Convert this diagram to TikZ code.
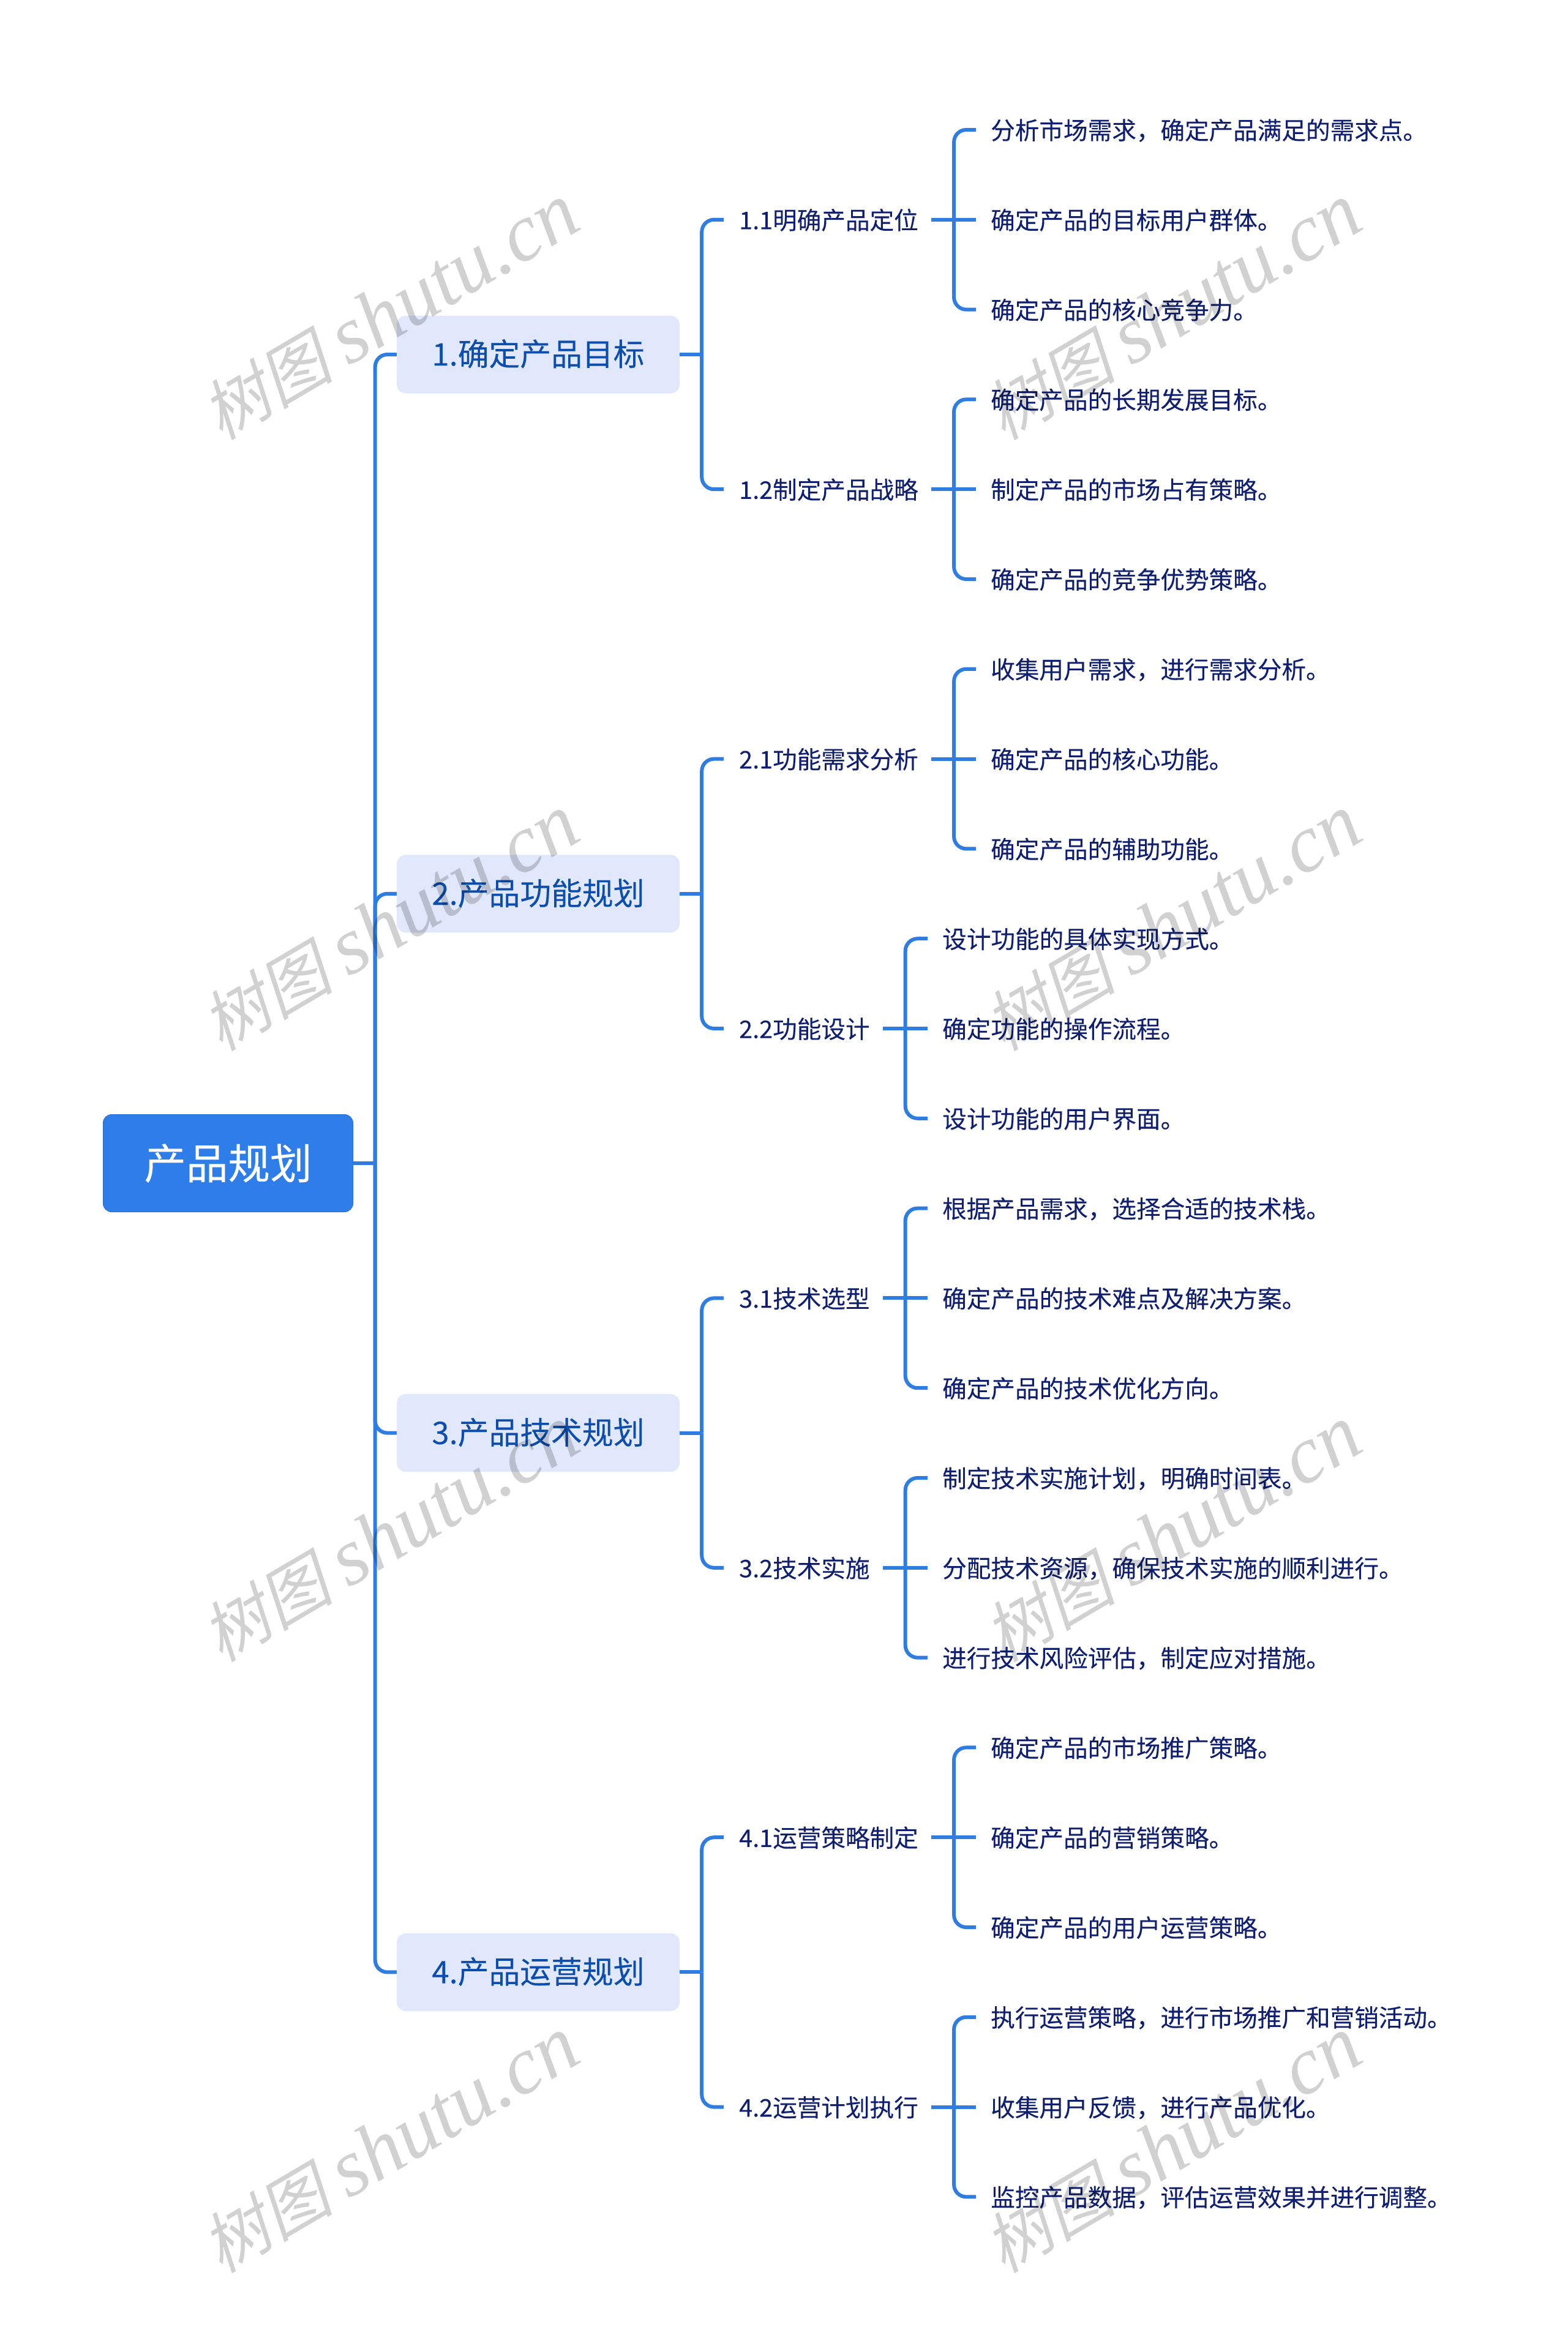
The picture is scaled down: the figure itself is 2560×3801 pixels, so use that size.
\documentclass[tikz,border=0pt]{standalone}
\usepackage{fontspec}
\setmainfont[FakeBold=0.12]{Noto Sans CJK SC}
\newfontfamily\wmcjk[FakeSlant=0.22]{Noto Sans CJK SC}
\newfontfamily\wmlat{Liberation Serif}
\definecolor{linkblue}{HTML}{2F7DE1}
\definecolor{rootblue}{HTML}{2F7DE8}
\definecolor{rootedge}{HTML}{2B72D6}
\definecolor{boxblue}{HTML}{E1E8FB}
\definecolor{boxtext}{HTML}{0D4DAB}
\definecolor{navy}{HTML}{10206E}
\tikzset{
  x=1pt,y=-1pt,
  link/.style={draw=linkblue,line width=6pt},
  curve/.style={link,rounded corners=20pt},
  rootnode/.style={rectangle,rounded corners=14pt,fill=rootblue,draw=rootedge,line width=1pt,
    minimum width=408pt,minimum height=159pt,inner sep=0pt,text=white,
    font=\fontsize{68.5pt}{80pt}\selectfont},
  topicbox/.style={rectangle,rounded corners=15pt,fill=boxblue,
    minimum width=462pt,minimum height=127pt,inner sep=0pt,text=boxtext,
    font=\fontsize{50.8pt}{60pt}\selectfont,text height=42.4pt,text depth=6pt},
  sublong/.style={anchor=west,inner xsep=25pt,inner ysep=0pt,text width=289pt,align=left,text=navy,
    font=\fontsize{39.6pt}{47pt}\selectfont,text height=36pt,text depth=4.75pt},
  subshort/.style={sublong,text width=210pt},
  leaf/.style={anchor=west,inner xsep=24pt,inner ysep=0pt,text=navy,
    font=\fontsize{39.6pt}{47pt}\selectfont,text height=36pt,text depth=4.75pt},
  mark text/.style={text=black,opacity=0.18,rotate=30.5,inner sep=0pt},
}
% stub from parent to its spine, then curves to the outer children and a straight run to the middle
\newcommand{\stubto}[2]{\draw[link] (#1.east) -- ++(#2,0) coordinate (#1-j);}
\newcommand{\curveto}[2]{\draw[curve] (#1-j) |- (#2.west);}
\newcommand{\straightto}[2]{\draw[link] (#1-j) -- (#2.west);}
\newcommand{\triple}[5]{% parent, offset, a, b, c
  \stubto{#1}{#2}\curveto{#1}{#3}\straightto{#1}{#4}\curveto{#1}{#5}}
\newcommand{\wmark}[3]{\node[mark text] (#1) at (#2,#3)
  {{\fontsize{108pt}{136pt}\selectfont\wmcjk 树图}\hspace{25pt}{\fontsize{133pt}{136pt}\selectfont\wmlat\itshape shutu.cn}};}
\begin{document}
\begin{tikzpicture}
\useasboundingbox (0,0) rectangle (2560,3801);
\fill[white] (0,0) rectangle (2560,3801);

\node[rootnode] (root) at (372.5,1900) {产品规划};
\node[topicbox] (t1) at (879,579) {1.确定产品目标};
\node[topicbox] (t2) at (879,1459.8) {2.产品功能规划};
\node[topicbox] (t3) at (879,2340.6) {3.产品技术规划};
\node[topicbox] (t4) at (879,3221.4) {4.产品运营规划};

\node[sublong] (s11) at (1182,358.8) {1.1明确产品定位};
\node[sublong] (s12) at (1182,799.2) {1.2制定产品战略};
\node[sublong] (s21) at (1182,1239.6) {2.1功能需求分析};
\node[subshort] (s22) at (1182,1680) {2.2功能设计};
\node[subshort] (s31) at (1182,2120.4) {3.1技术选型};
\node[subshort] (s32) at (1182,2560.8) {3.2技术实施};
\node[sublong] (s41) at (1182,3001.2) {4.1运营策略制定};
\node[sublong] (s42) at (1182,3441.6) {4.2运营计划执行};

\node[leaf] (a1) at (1594,212) {分析市场需求，确定产品满足的需求点。};
\node[leaf] (a2) at (1594,358.8) {确定产品的目标用户群体。};
\node[leaf] (a3) at (1594,505.6) {确定产品的核心竞争力。};
\node[leaf] (b1) at (1594,652.4) {确定产品的长期发展目标。};
\node[leaf] (b2) at (1594,799.2) {制定产品的市场占有策略。};
\node[leaf] (b3) at (1594,946) {确定产品的竞争优势策略。};
\node[leaf] (c1) at (1594,1092.8) {收集用户需求，进行需求分析。};
\node[leaf] (c2) at (1594,1239.6) {确定产品的核心功能。};
\node[leaf] (c3) at (1594,1386.4) {确定产品的辅助功能。};
\node[leaf] (d1) at (1515,1533.2) {设计功能的具体实现方式。};
\node[leaf] (d2) at (1515,1680) {确定功能的操作流程。};
\node[leaf] (d3) at (1515,1826.8) {设计功能的用户界面。};
\node[leaf] (e1) at (1515,1973.6) {根据产品需求，选择合适的技术栈。};
\node[leaf] (e2) at (1515,2120.4) {确定产品的技术难点及解决方案。};
\node[leaf] (e3) at (1515,2267.2) {确定产品的技术优化方向。};
\node[leaf] (f1) at (1515,2414) {制定技术实施计划，明确时间表。};
\node[leaf] (f2) at (1515,2560.8) {分配技术资源，确保技术实施的顺利进行。};
\node[leaf] (f3) at (1515,2707.6) {进行技术风险评估，制定应对措施。};
\node[leaf] (g1) at (1594,2854.4) {确定产品的市场推广策略。};
\node[leaf] (g2) at (1594,3001.2) {确定产品的营销策略。};
\node[leaf] (g3) at (1594,3148) {确定产品的用户运营策略。};
\node[leaf] (h1) at (1594,3294.8) {执行运营策略，进行市场推广和营销活动。};
\node[leaf] (h2) at (1594,3441.6) {收集用户反馈，进行产品优化。};
\node[leaf] (h3) at (1594,3588.4) {监控产品数据，评估运营效果并进行调整。};

% trunk
\stubto{root}{35.7}
\curveto{root}{t1}\curveto{root}{t2}\curveto{root}{t3}\curveto{root}{t4}
% topic to sub
\stubto{t1}{36}\curveto{t1}{s11}\curveto{t1}{s12}
\stubto{t2}{36}\curveto{t2}{s21}\curveto{t2}{s22}
\stubto{t3}{36}\curveto{t3}{s31}\curveto{t3}{s32}
\stubto{t4}{36}\curveto{t4}{s41}\curveto{t4}{s42}
% sub to leaf
\triple{s11}{36.7}{a1}{a2}{a3}
\triple{s12}{36.7}{b1}{b2}{b3}
\triple{s21}{36.7}{c1}{c2}{c3}
\triple{s22}{36.3}{d1}{d2}{d3}
\triple{s31}{36.3}{e1}{e2}{e3}
\triple{s32}{36.3}{f1}{f2}{f3}
\triple{s41}{36.7}{g1}{g2}{g3}
\triple{s42}{36.7}{h1}{h2}{h3}

% watermarks
\wmark{w1}{637}{510}\wmark{w2}{1915}{510}
\wmark{w3}{637}{1508}\wmark{w4}{1915}{1508}
\wmark{w5}{637}{2506}\wmark{w6}{1915}{2506}
\wmark{w7}{637}{3504}\wmark{w8}{1915}{3504}
\end{tikzpicture}
\end{document}
